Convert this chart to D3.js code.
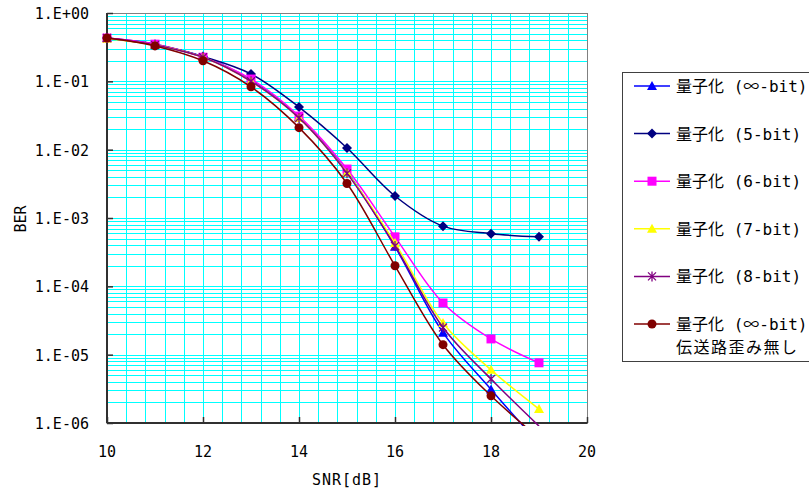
<!DOCTYPE html>
<html lang="ja">
<head>
<meta charset="UTF-8">
<title>BER vs SNR</title>
<script src="https://d3js.org/d3.v7.min.js"></script>
<style>
  body { margin: 0; background: #fff; }
  svg { display: block; }
  text { font-family: "DejaVu Sans Mono", "Noto Sans CJK JP", monospace; fill: #000; }
  .cjk { font-family: "Noto Sans CJK JP", sans-serif; }
</style>
</head>
<body>
<div id="chart"></div>
<script>
// data
const snr = [10, 11, 12, 13, 14, 15, 16, 17, 18, 19];
const berInf   = [0.43, 0.34, 0.23, 0.105, 0.030, 0.0047, 3.8e-4, 2.1e-5, 3.1e-6, 5e-7];
const ber5bit  = [0.43, 0.35, 0.23, 0.128, 0.042, 0.0106, 2.1e-3, 7.6e-4, 5.9e-4, 5.3e-4];
const ber6bit  = [0.43, 0.35, 0.225, 0.108, 0.031, 0.0052, 5.3e-4, 5.7e-5, 1.7e-5, 7.6e-6];
const ber7bit  = [0.42, 0.34, 0.225, 0.10, 0.029, 0.0046, 4.3e-4, 2.9e-5, 6.0e-6, 1.6e-6];
const ber8bit  = [0.43, 0.34, 0.225, 0.10, 0.029, 0.0045, 3.9e-4, 2.5e-5, 4.4e-6, 9.0e-7];
const berIdeal = [0.43, 0.33, 0.20, 0.083, 0.021, 0.0032, 2.0e-4, 1.4e-5, 2.5e-6, 6e-7];

const xTicks = [10, 12, 14, 16, 18, 20];
const yTickLabels = ["1.E+00", "1.E-01", "1.E-02", "1.E-03", "1.E-04", "1.E-05", "1.E-06"];
const seriesNames = ["量子化 (∞-bit)", "量子化 (5-bit)", "量子化 (6-bit)", "量子化 (7-bit)", "量子化 (8-bit)", "量子化 (∞-bit)"];

const series = [
  { name: seriesNames[0], values: berInf,   color: "#0000ff", marker: "triangle" },
  { name: seriesNames[1], values: ber5bit,  color: "#000080", marker: "diamond" },
  { name: seriesNames[2], values: ber6bit,  color: "#ff00ff", marker: "square" },
  { name: seriesNames[3], values: ber7bit,  color: "#ffff00", marker: "triangle" },
  { name: seriesNames[4], values: ber8bit,  color: "#800080", marker: "star" },
  { name: seriesNames[5], values: berIdeal, color: "#800000", marker: "circle", line2: "伝送路歪み無し" }
];

const W = 809, H = 490;
const pL = 107, pR = 587, pT = 13, pB = 423;

const x = d3.scaleLinear().domain([10, 20]).range([pL, pR]);
const y = d3.scaleLog().domain([1e-6, 1]).range([pB, pT]);

const svg = d3.select("#chart").append("svg")
  .attr("width", W).attr("height", H);

svg.append("defs").append("clipPath").attr("id", "plotClip")
  .append("rect").attr("x", pL).attr("y", pT)
  .attr("width", pR - pL).attr("height", pB - pT + 3);

// grid
const grid = svg.append("g").attr("stroke", "#00ffff").attr("stroke-width", 1);
d3.range(10, 20.01, 0.4).forEach(v => {
  const px = Math.round(x(v)) + 0.5;
  grid.append("line").attr("x1", px).attr("x2", px).attr("y1", pT).attr("y2", pB);
});
for (let e = -6; e < 0; e++) {
  for (let m = 1; m <= 9; m++) {
    const py = Math.round(y(m * Math.pow(10, e))) + 0.5;
    grid.append("line").attr("x1", pL).attr("x2", pR).attr("y1", py).attr("y2", py);
  }
}

// frame
svg.append("rect").attr("x", pL).attr("y", pT + 0.5)
  .attr("width", pR - pL + 0.5).attr("height", pB - pT)
  .attr("fill", "none").attr("stroke", "#808080").attr("stroke-width", 1);

// axes, ticks inward
const yAxis = svg.append("g").attr("transform", `translate(${pL},0)`)
  .call(d3.axisRight(y).tickValues(d3.range(0, 7).map(i => Math.pow(10, -i))).tickSize(6).tickFormat(""));
yAxis.select(".domain").attr("stroke", "#303030").attr("stroke-width", 2).attr("d", `M0,${pT}V${pB}`);
yAxis.selectAll(".tick line").attr("stroke", "#303030").attr("stroke-width", 1.5);

const xAxis = svg.append("g").attr("transform", `translate(0,${pB})`)
  .call(d3.axisTop(x).tickValues(xTicks).tickSize(6).tickFormat(""));
xAxis.select(".domain").attr("stroke", "#303030").attr("stroke-width", 2).attr("d", `M${pL},0H${pR}`);
xAxis.selectAll(".tick line").attr("stroke", "#303030").attr("stroke-width", 1.5);

// tick labels
svg.append("g").selectAll("text").data(yTickLabels).join("text")
  .attr("x", 89).attr("y", (d, i) => y(Math.pow(10, -i)) + 6)
  .attr("text-anchor", "end").attr("font-size", 15).text(d => d);
svg.append("g").selectAll("text").data(xTicks).join("text")
  .attr("x", d => x(d)).attr("y", 457)
  .attr("text-anchor", "middle").attr("font-size", 15).text(d => d);

svg.append("text").attr("x", 347).attr("y", 485).attr("text-anchor", "middle")
  .attr("font-size", 15).attr("letter-spacing", 1).text("SNR[dB]");
svg.append("text").attr("transform", "translate(26,219) rotate(-90)")
  .attr("text-anchor", "middle").attr("font-size", 15).text("BER");

// markers
function drawMarker(g, type, color, cx, cy) {
  if (type === "triangle") {
    g.append("path").attr("d", `M${cx},${cy - 5}L${cx + 5},${cy + 4}L${cx - 5},${cy + 4}Z`).attr("fill", color);
  } else if (type === "diamond") {
    g.append("path").attr("d", `M${cx},${cy - 5}L${cx + 5},${cy}L${cx},${cy + 5}L${cx - 5},${cy}Z`).attr("fill", color);
  } else if (type === "square") {
    g.append("rect").attr("x", cx - 4.5).attr("y", cy - 4.5).attr("width", 9).attr("height", 9).attr("fill", color);
  } else if (type === "circle") {
    g.append("circle").attr("cx", cx).attr("cy", cy).attr("r", 4.5).attr("fill", color);
  } else if (type === "star") {
    g.append("path")
      .attr("d", `M${cx - 4},${cy - 4}L${cx + 4},${cy + 4}M${cx + 4},${cy - 4}L${cx - 4},${cy + 4}M${cx},${cy - 5}V${cy + 5}`)
      .attr("stroke", color).attr("stroke-width", 1.3).attr("fill", "none");
  }
}

const line = d3.line().x((d, i) => x(snr[i])).y(d => y(d)).curve(d3.curveCatmullRom);

const plot = svg.append("g");
series.forEach(s => {
  const g = plot.append("g");
  g.append("path").attr("d", line(s.values)).attr("fill", "none")
    .attr("stroke", s.color).attr("stroke-width", 1.5).attr("clip-path", "url(#plotClip)");
  s.values.forEach((v, i) => {
    if (v >= 1e-6) drawMarker(g, s.marker, s.color, x(snr[i]), y(v));
  });
});

// legend
const lg = svg.append("g");
lg.append("rect").attr("x", 622.5).attr("y", 72.5).attr("width", 200).attr("height", 289)
  .attr("fill", "#fff").attr("stroke", "#404040").attr("stroke-width", 1);
series.forEach((s, i) => {
  const ly = 86 + i * 47.6;
  const g = lg.append("g");
  g.append("line").attr("x1", 634).attr("x2", 670).attr("y1", ly).attr("y2", ly)
    .attr("stroke", s.color).attr("stroke-width", 1.5);
  drawMarker(g, s.marker, s.color, 652, ly);
  const t = g.append("text").attr("x", 676).attr("y", ly + 6).attr("font-size", 16);
  // the infinity sign is drawn from the CJK font so it comes out wide, as in the original
  s.name.split(/(∞)/).forEach(part => {
    if (!part) return;
    const sp = t.append("tspan").text(part);
    if (part === "∞") sp.attr("class", "cjk");
  });
  if (s.line2) g.append("text").attr("x", 676).attr("y", ly + 29).attr("font-size", 16)
    .attr("letter-spacing", 1.5).text(s.line2);
});
</script>
</body>
</html>
